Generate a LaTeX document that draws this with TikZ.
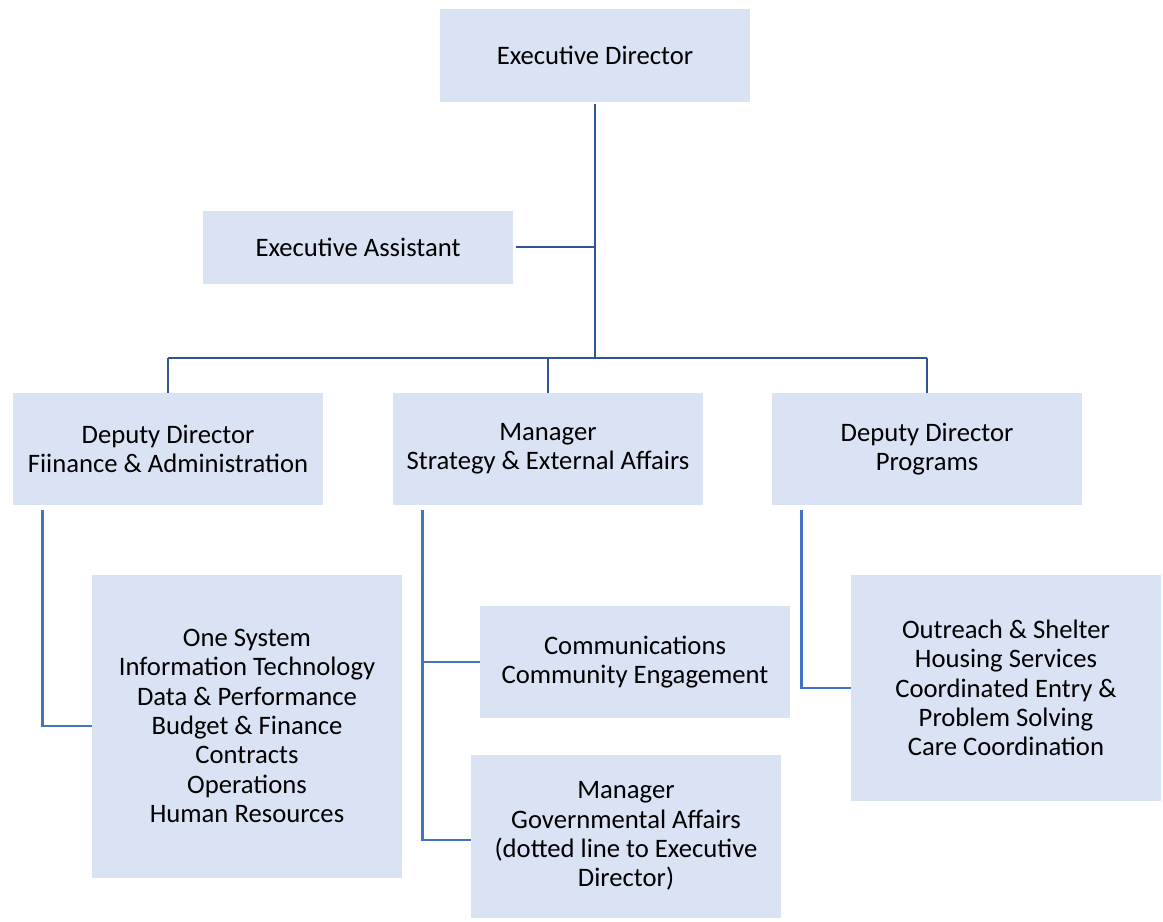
\documentclass[tikz,border=0pt]{standalone}
\usepackage{fontspec}
\setmainfont{Carlito}
\definecolor{boxfill}{HTML}{DAE3F3}
\definecolor{topline}{HTML}{2F5597}
\definecolor{subline}{HTML}{4472C4}
\tikzset{
  unit/.style={fill=boxfill, inner sep=0pt, minimum width=232.5pt, align=center,
    font=\fontsize{20}{22}\selectfont},
  topconn/.style={draw=topline, line width=2.1pt},
  subconn/.style={draw=subline, line width=2.1pt},
}
\begin{document}
\begin{tikzpicture}[x=0.75pt, y=-0.75pt]
\useasboundingbox (0,0) rectangle (1163,921);

% Nodes
\node[unit, minimum height=69.75pt] (exec) at (595,55) {Executive Director};
\node[unit, minimum height=54.75pt] (assist) at (358,247) {Executive Assistant};
\node[unit, minimum height=84pt] (ddfin) at (168,449) {Deputy Director\\Fiinance \& Administration};
\node[unit, minimum height=84pt] (mgrsea) at (548,449) {Manager\\Strategy \& External Affairs};
\node[unit, minimum height=84pt] (ddprog) at (927,449) {Deputy Director\\Programs};
\node[unit, minimum height=227.25pt] (finunits) at (247,726) {One System\\Information Technology\\Data \& Performance\\Budget \& Finance\\Contracts\\Operations\\Human Resources};
\node[unit, minimum height=84pt] (comms) at (635,662) {Communications\\Community Engagement};
\node[unit, minimum height=122.25pt] (mgrgov) at (626,836) {Manager\\Governmental Affairs\\(dotted line to Executive\\Director)};
\node[unit, minimum height=169.5pt] (progunits) at (1006,688) {Outreach \& Shelter\\Housing Services\\Coordinated Entry \&\\Problem Solving\\Care Coordination};

\coordinate (bus) at (595,358);

% Connectors
\draw[topconn] ([yshift=-2pt]exec.south) -- (exec.south |- bus);
\draw[topconn] ([xshift=2pt]assist.east) -- (exec.south |- assist.east);
\draw[topconn] (ddfin.north |- bus) -- (ddprog.north |- bus);
\draw[topconn] (ddfin.north |- bus) -- (ddfin.north);
\draw[topconn] (mgrsea.north |- bus) -- (mgrsea.north);
\draw[topconn] (ddprog.north |- bus) -- (ddprog.north);

\draw[subconn] ([shift={(30,5)}]ddfin.south west) |- (finunits.west);
\draw[subconn] ([shift={(30,5)}]mgrsea.south west) coordinate (spine) |- ([yshift=-3pt]mgrgov.west);
\draw[subconn] (spine |- comms.west) -- (comms.west);
\draw[subconn] ([shift={(30,5)}]ddprog.south west) |- (progunits.west);

\end{tikzpicture}
\end{document}
